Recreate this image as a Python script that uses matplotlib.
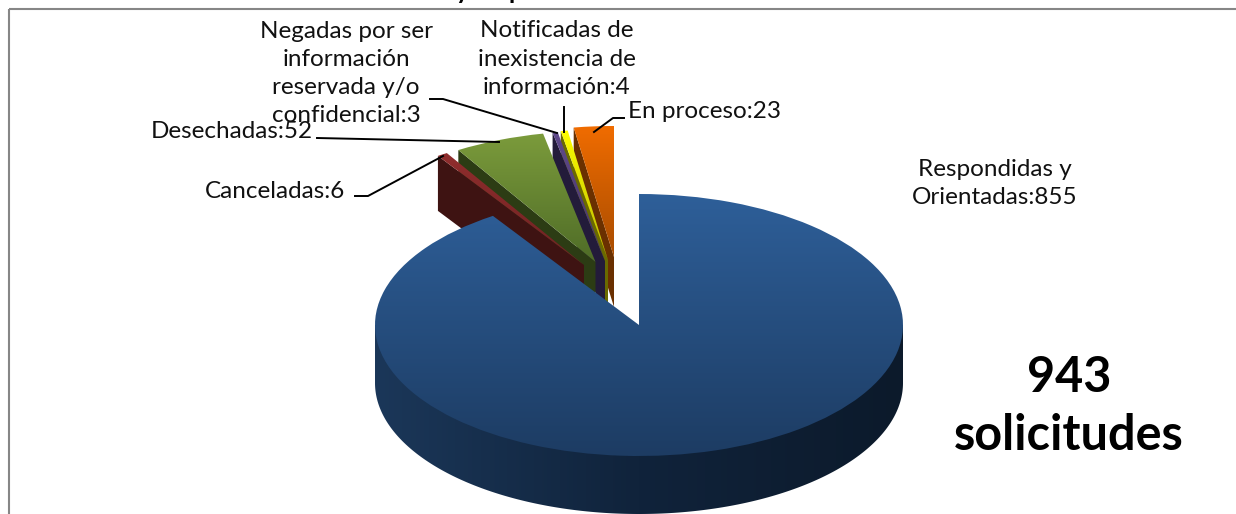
import numpy as np
import matplotlib
matplotlib.use("Agg")
import matplotlib.pyplot as plt
from matplotlib.colors import LinearSegmentedColormap
from matplotlib.patches import Polygon
from matplotlib.transforms import Affine2D

# ---- data ----
categories = ["Respondidas y\nOrientadas", "Canceladas", "Desechadas",
              "Negadas por ser\ninformación\nreservada y/o\nconfidencial",
              "Notificadas de\ninexistencia de\ninformación", "En proceso"]
values = [855, 6, 52, 3, 4, 23]
total_label = "943\nsolicitudes"
clipped_title = "y respuestas"

# ---- style / layout (pixel coordinates of the reference) ----
W, H = 1236, 514
RX, RY = 264, 131
DEPTH = [58, 55, 55, 55, 55, 50]
APEX = [(639, 325), (584, 265), (595.5, 262), (605, 261), (608, 260), (614, 257)]
FACE = [("#2E5F99", "#1D3C63"), ("#962F2F", "#6E2222"), ("#7C9C3C", "#4F6C27"),
        ("#604A8C", "#443366"), ("#FFFF00", "#B8B800"), ("#F06C00", "#A84C00")]
WALL = ["#1C3A5F", "#3E1312", "#2C3C14", "#231B3A", "#6A6A00", "#6A3000"]
INK = "#111111"
FONT = "Lato"
FS = 17.5

fig = plt.figure(figsize=(W / 100, H / 100), dpi=100)
ax = fig.add_axes([0, 0, 1, 1])


def py(y):
    return H - y


wedges, _ = ax.pie(values, startangle=90, counterclock=False, radius=1, center=(0, 0))
order = [5, 4, 3, 2, 1, 0]  # back to front


def gradient(patch, box, c0, c1, z=2):
    cmap = LinearSegmentedColormap.from_list("g", [c0, c1])
    arr = np.linspace(0, 1, 256)[:, None]
    im = ax.imshow(arr, extent=box, origin="upper", aspect="auto", cmap=cmap,
                   zorder=z, interpolation="bilinear")
    im.set_clip_path(patch)
    return im


z = 2.0
for i in order:
    w = wedges[i]
    ax_, ay_ = APEX[i]
    d = DEPTH[i]
    t1, t2 = np.radians(w.theta1), np.radians(w.theta2)
    if i == 0:
        # outer rim of the big slice, front half only; runs under the face so no seam shows
        th = np.linspace(np.pi, 2 * np.pi, 200)
        xs = ax_ + RX * np.cos(th)
        ys = py(ay_) + RY * np.sin(th) - d
        pts = np.r_[[(ax_ - RX, py(ay_))], np.c_[xs, ys], [(ax_ + RX, py(ay_))]]
        poly = Polygon(pts, closed=True, fc="none", ec="none", zorder=z)
        ax.add_patch(poly)
        cm = LinearSegmentedColormap.from_list("r", ["#1B3759", "#10233B", "#0C1A2B"])
        im = ax.imshow(np.linspace(0, 1, 256)[None, :],
                       extent=(ax_ - RX, ax_ + RX, py(ay_ + RY + d), py(ay_)),
                       aspect="auto", cmap=cm, zorder=z)
        im.set_clip_path(poly)
    else:
        # cut face seen on the left side of each pulled-out slice
        ox, oy = ax_ + RX * np.cos(t2), py(ay_) + RY * np.sin(t2)
        poly = Polygon([(ox, oy), (ax_, py(ay_)), (ax_, py(ay_) - d), (ox, oy - d)],
                       closed=True, fc=WALL[i], ec="none", zorder=z)
        ax.add_patch(poly)
    z += 0.1
    # top face
    w.set_transform(Affine2D().scale(RX, RY).translate(ax_, py(ay_)) + ax.transData)
    w.set_facecolor("none")
    w.set_edgecolor("none")
    w.set_zorder(z)
    top = ay_ - RY
    bottom = ay_ + RY if i == 0 else ay_
    gradient(w, (ax_ - RX, ax_ + RX, py(bottom), py(top)), FACE[i][0], FACE[i][1], z=z)
    z += 0.1

# ---- frame ----
ax.plot([9, 9], [py(9), py(H)], color="#868686", lw=1.5, zorder=1, solid_capstyle="butt")
ax.plot([9, W], [py(9), py(9)], color="#868686", lw=1.5, zorder=1, solid_capstyle="butt")

# ---- leader lines ----
leaders = [
    ([430, 443, 557], [99, 99, 133]),
    ([564, 564], [107, 132]),
    ([624, 613, 594], [118, 118, 132]),
    ([317, 499], [138, 142]),
    ([355, 368, 443], [196, 196, 156]),
]
for xs, ys in leaders:
    ax.plot(xs, [py(v) for v in ys], color="black", lw=1.4, zorder=20)

# ---- labels ----
def lab(text_, x, y, ha="center"):
    ax.text(x, py(y), text_, ha=ha, va="center", fontsize=FS, family=FONT,
            color=INK, linespacing=1.42, zorder=21)


lab(f"{categories[3]}:{values[3]}", 346, 73.5)
lab(f"{categories[4]}:{values[4]}", 557, 59)
lab(f"{categories[5]}:{values[5]}", 628, 112, ha="left")
lab(f"{categories[0]}:{values[0]}", 995, 183.5)
lab(f"{categories[2]}:{values[2]}", 151, 131, ha="left")
lab(f"{categories[1]}:{values[1]}", 205, 192, ha="left")

t943, tsol = total_label.split("\n")
ax.text(1069, py(378), t943, ha="center", va="center", fontsize=35, family=FONT,
        weight="bold", color="black", zorder=21)
ax.text(1069, py(436), tsol, ha="center", va="center", fontsize=35, family=FONT,
        weight="bold", color="black", zorder=21)
ax.text(456, py(-1), clipped_title, ha="left", va="baseline", fontsize=18, family=FONT,
        weight="bold", color="black", zorder=21)

ax.set_aspect("auto")
ax.set_xlim(0, W)
ax.set_ylim(0, H)
ax.axis("off")
fig.savefig("out.png", dpi=100)
